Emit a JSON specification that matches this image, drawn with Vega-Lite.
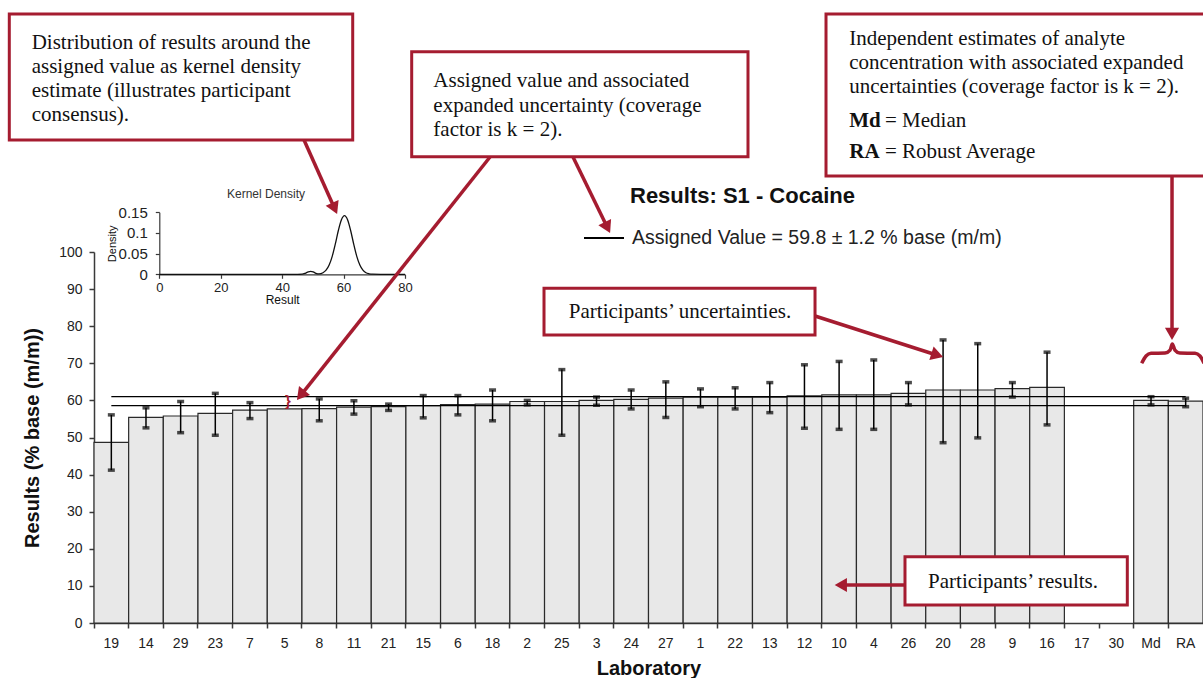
{
  "$schema": "https://vega.github.io/schema/vega-lite/v6.json",
  "width": 1109,
  "height": 371,
  "autosize": {"type": "none"},
  "padding": {"left": 94, "top": 252, "right": 0, "bottom": 55},
  "background": "white",
  "config": {
    "view": {"stroke": null},
    "font": "Liberation Sans",
    "axis": {"grid": false, "labelOverlap": false, "labelFont": "Liberation Sans", "titleFont": "Liberation Sans", "domainColor": "#3a3a3a", "tickColor": "#3a3a3a", "labelColor": "#222222", "titleColor": "#111111", "domainWidth": 1.5, "tickWidth": 1.5}
  },
  "datasets": {
    "results": [
      {"lab": "19", "result": 48.7, "lo": 41.2, "hi": 56.1},
      {"lab": "14", "result": 55.4, "lo": 52.6, "hi": 58.0},
      {"lab": "29", "result": 55.8, "lo": 51.3, "hi": 59.7},
      {"lab": "23", "result": 56.5, "lo": 50.6, "hi": 61.9},
      {"lab": "7", "result": 57.4, "lo": 55.1, "hi": 59.4},
      {"lab": "5", "result": 57.7, "lo": null, "hi": null},
      {"lab": "8", "result": 57.8, "lo": 54.5, "hi": 60.4},
      {"lab": "11", "result": 58.2, "lo": 56.3, "hi": 59.9},
      {"lab": "21", "result": 58.3, "lo": 57.3, "hi": 59.0},
      {"lab": "15", "result": 58.6, "lo": 55.3, "hi": 61.3},
      {"lab": "6", "result": 58.9, "lo": 56.1, "hi": 61.3},
      {"lab": "18", "result": 59.0, "lo": 54.5, "hi": 62.8},
      {"lab": "2", "result": 59.7, "lo": 58.8, "hi": 60.0},
      {"lab": "25", "result": 59.7, "lo": 50.6, "hi": 68.3},
      {"lab": "3", "result": 60.0, "lo": 58.7, "hi": 60.9},
      {"lab": "24", "result": 60.3, "lo": 57.7, "hi": 62.8},
      {"lab": "27", "result": 60.6, "lo": 55.4, "hi": 65.0},
      {"lab": "1", "result": 60.9, "lo": 58.3, "hi": 63.1},
      {"lab": "22", "result": 60.9, "lo": 57.7, "hi": 63.4},
      {"lab": "13", "result": 60.9, "lo": 56.7, "hi": 64.8},
      {"lab": "12", "result": 61.2, "lo": 52.5, "hi": 69.6},
      {"lab": "10", "result": 61.5, "lo": 52.2, "hi": 70.5},
      {"lab": "4", "result": 61.5, "lo": 52.2, "hi": 70.9},
      {"lab": "26", "result": 61.9, "lo": 58.8, "hi": 64.8},
      {"lab": "20", "result": 62.8, "lo": 48.6, "hi": 76.3},
      {"lab": "28", "result": 62.8, "lo": 49.9, "hi": 75.3},
      {"lab": "9", "result": 63.2, "lo": 60.9, "hi": 64.8},
      {"lab": "16", "result": 63.5, "lo": 53.4, "hi": 73.0},
      {"lab": "17", "result": null, "lo": null, "hi": null},
      {"lab": "30", "result": null, "lo": null, "hi": null},
      {"lab": "Md", "result": 60.0, "lo": 58.8, "hi": 61.0},
      {"lab": "RA", "result": 59.8, "lo": 58.3, "hi": 60.6}
    ],
    "assigned": [
      {"bound": "upper", "value": 61.0},
      {"bound": "lower", "value": 58.6}
    ],
    "kde": [
      {"result": 0, "density": 0},
      {"result": 20, "density": 0},
      {"result": 40, "density": 0},
      {"result": 45, "density": 0},
      {"result": 46.5, "density": 0.0004},
      {"result": 47.5, "density": 0.0025},
      {"result": 48.5, "density": 0.0058},
      {"result": 49.3, "density": 0.007},
      {"result": 50.1, "density": 0.0058},
      {"result": 51, "density": 0.0025},
      {"result": 52, "density": 0.0008},
      {"result": 53.3, "density": 0.0038},
      {"result": 54.3, "density": 0.0099},
      {"result": 55.3, "density": 0.0224},
      {"result": 56.3, "density": 0.0435},
      {"result": 57.3, "density": 0.073},
      {"result": 58.3, "density": 0.106},
      {"result": 59.3, "density": 0.132},
      {"result": 60.3, "density": 0.142},
      {"result": 61.3, "density": 0.132},
      {"result": 62.3, "density": 0.106},
      {"result": 63.3, "density": 0.073},
      {"result": 64.3, "density": 0.0435},
      {"result": 65.3, "density": 0.0224},
      {"result": 66.3, "density": 0.0099},
      {"result": 67.3, "density": 0.0038},
      {"result": 68.3, "density": 0.0013},
      {"result": 69.5, "density": 0.0002},
      {"result": 72, "density": 0},
      {"result": 80, "density": 0}
    ],
    "boxes": [
      {"x": -2.444, "x2": 7.465, "y": 164.15, "y2": 130.19},
      {"x": 9.167, "x2": 18.871, "y": 153.99, "y2": 125.69},
      {"x": 21.122, "x2": 33.5, "y": 164.15, "y2": 120.49},
      {"x": 12.985, "x2": 20.805, "y": 90.22, "y2": 77.63},
      {"x": 23.401, "x2": 29.816, "y": 17.87, "y2": 4.85}
    ],
    "arrows": [
      {"x": 6.06, "y": 130.19, "x2": 6.943, "y2": 111.72, "angle": 156},
      {"x": 11.427, "y": 125.61, "x2": 5.965, "y2": 61.37, "angle": 218.5},
      {"x": 13.822, "y": 125.61, "x2": 14.814, "y2": 106.58, "angle": 154},
      {"x": 31.106, "y": 120.49, "x2": 31.106, "y2": 77.9, "angle": 180},
      {"x": 20.805, "y": 82.75, "x2": 24.333, "y2": 72.18, "angle": 107.8},
      {"x": 23.401, "y": 10.24, "x2": 21.55, "y2": 10.24, "angle": 270}
    ],
    "brace": [
      {"x": 30.23, "y": 70.0},
      {"x": 30.356, "y": 71.97},
      {"x": 30.5, "y": 72.7},
      {"x": 30.905, "y": 72.78},
      {"x": 31.05, "y": 73.58},
      {"x": 31.114, "y": 75.2},
      {"x": 31.19, "y": 73.58},
      {"x": 31.33, "y": 72.78},
      {"x": 31.77, "y": 72.7},
      {"x": 31.913, "y": 71.97},
      {"x": 32.03, "y": 70.0}
    ],
    "notes": [
      {"kind": "left", "x": -1.798, "y": 154.72, "text": "Distribution of results around the"},
      {"kind": "left", "x": -1.798, "y": 148.33, "text": "assigned value as kernel density"},
      {"kind": "left", "x": -1.798, "y": 141.86, "text": "estimate (illustrates participant"},
      {"kind": "left", "x": -1.798, "y": 135.39, "text": "consensus)."},
      {"kind": "left", "x": 9.791, "y": 144.56, "text": "Assigned value and associated"},
      {"kind": "left", "x": 9.791, "y": 137.82, "text": "expanded uncertainty (coverage"},
      {"kind": "left", "x": 9.791, "y": 131.35, "text": "factor is k = 2)."},
      {"kind": "left", "x": 21.794, "y": 155.8, "text": "Independent estimates of analyte"},
      {"kind": "left", "x": 21.794, "y": 149.25, "text": "concentration with associated expanded"},
      {"kind": "left", "x": 21.794, "y": 142.78, "text": "uncertainties (coverage factor is k = 2)."},
      {"kind": "left", "x": 22.824, "y": 133.61, "text": "= Median"},
      {"kind": "left", "x": 22.824, "y": 125.26, "text": "= Robust Average"},
      {"kind": "bold", "x": 21.794, "y": 133.61, "text": "Md"},
      {"kind": "bold", "x": 21.794, "y": 125.26, "text": "RA"},
      {"kind": "center", "x": 16.909, "y": 82.13, "text": "Participants’ uncertainties."},
      {"kind": "center", "x": 26.518, "y": 9.35, "text": "Participants’ results."},
      {"kind": "title", "x": 15.466, "y": 113.29, "text": "Results: S1 - Cocaine"},
      {"kind": "inset", "x": 4.963, "y": 115.5, "text": "Kernel Density"},
      {"kind": "bracket", "x": 5.598, "y": 59.84, "text": "}"}
    ]
  },
  "layer": [
    {
      "layer": [
        {
          "data": {"name": "results"},
          "mark": {"type": "bar", "fill": "#e8e8e8", "stroke": "#2a2a2a", "strokeWidth": 1.2},
          "encoding": {
            "x": {
              "field": "lab", "type": "nominal",
              "scale": {"domain": ["19","14","29","23","7","5","8","11","21","15","6","18","2","25","3","24","27","1","22","13","12","10","4","26","20","28","9","16","17","30","Md","RA"], "paddingInner": 0, "paddingOuter": 0},
              "axis": {"title": "Laboratory", "titleFontSize": 20, "titleFontWeight": "bold", "labelFontSize": 14, "labelAngle": 0, "bandPosition": 0, "tickSize": 5, "labelPadding": 8, "titlePadding": 8}
            },
            "y": {
              "field": "result", "type": "quantitative",
              "scale": {"domain": [0, 100], "nice": false},
              "axis": {"title": "Results (% base (m/m))", "titleFontSize": 20, "titleFontWeight": "bold", "labelFontSize": 14, "values": [0,10,20,30,40,50,60,70,80,90,100], "tickCount": 11, "format": "d", "tickSize": 5, "labelPadding": 7, "titlePadding": 16}
            }
          }
        },
        {
          "data": {"name": "results"},
          "mark": {"type": "rule", "color": "#000000", "strokeWidth": 1.5},
          "encoding": {
            "x": {"field": "lab", "type": "nominal", "axis": {"title": "Laboratory", "titleFontSize": 20, "titleFontWeight": "bold", "labelFontSize": 14, "labelAngle": 0, "bandPosition": 0, "tickSize": 5, "labelPadding": 8, "titlePadding": 8}},
            "y": {"field": "lo", "type": "quantitative", "axis": {"title": "Results (% base (m/m))", "titleFontSize": 20, "titleFontWeight": "bold", "labelFontSize": 14, "values": [0,10,20,30,40,50,60,70,80,90,100], "tickCount": 11, "format": "d", "tickSize": 5, "labelPadding": 7, "titlePadding": 16}},
            "y2": {"field": "hi"}
          }
        },
        {
          "data": {"name": "results"},
          "mark": {"type": "tick", "color": "#000000", "size": 7, "thickness": 3.5},
          "encoding": {
            "x": {"field": "lab", "type": "nominal", "axis": {"title": "Laboratory", "titleFontSize": 20, "titleFontWeight": "bold", "labelFontSize": 14, "labelAngle": 0, "bandPosition": 0, "tickSize": 5, "labelPadding": 8, "titlePadding": 8}},
            "y": {"field": "lo", "type": "quantitative", "axis": {"title": "Results (% base (m/m))", "titleFontSize": 20, "titleFontWeight": "bold", "labelFontSize": 14, "values": [0,10,20,30,40,50,60,70,80,90,100], "tickCount": 11, "format": "d", "tickSize": 5, "labelPadding": 7, "titlePadding": 16}}
          }
        },
        {
          "data": {"name": "results"},
          "mark": {"type": "tick", "color": "#000000", "size": 7, "thickness": 3.5},
          "encoding": {
            "x": {"field": "lab", "type": "nominal", "axis": {"title": "Laboratory", "titleFontSize": 20, "titleFontWeight": "bold", "labelFontSize": 14, "labelAngle": 0, "bandPosition": 0, "tickSize": 5, "labelPadding": 8, "titlePadding": 8}},
            "y": {"field": "hi", "type": "quantitative", "axis": {"title": "Results (% base (m/m))", "titleFontSize": 20, "titleFontWeight": "bold", "labelFontSize": 14, "values": [0,10,20,30,40,50,60,70,80,90,100], "tickCount": 11, "format": "d", "tickSize": 5, "labelPadding": 7, "titlePadding": 16}}
          }
        },
        {
          "data": {"name": "assigned"},
          "mark": {"type": "rule", "strokeWidth": 1.3},
          "encoding": {
            "x": {"datum": "19", "type": "nominal", "axis": {"title": "Laboratory", "titleFontSize": 20, "titleFontWeight": "bold", "labelFontSize": 14, "labelAngle": 0, "bandPosition": 0, "tickSize": 5, "labelPadding": 8, "titlePadding": 8}},
            "x2": {"datum": "RA"},
            "y": {"field": "value", "type": "quantitative", "axis": {"title": "Results (% base (m/m))", "titleFontSize": 20, "titleFontWeight": "bold", "labelFontSize": 14, "values": [0,10,20,30,40,50,60,70,80,90,100], "tickCount": 11, "format": "d", "tickSize": 5, "labelPadding": 7, "titlePadding": 16}},
            "color": {
              "datum": "Assigned Value = 59.8 ± 1.2 % base (m/m)", "type": "nominal",
              "scale": {"range": ["#000000"]},
              "legend": {"orient": "none", "legendX": 489, "legendY": -35, "title": null, "symbolType": "stroke", "symbolSize": 1600, "symbolStrokeWidth": 2, "labelFontSize": 19.5, "labelFont": "Liberation Sans", "labelColor": "#222222", "labelOffset": 7, "labelLimit": 0, "padding": 0}
            }
          }
        }
      ]
    },
    {
      "data": {"name": "kde"},
      "mark": {"type": "line", "color": "#111111", "strokeWidth": 1.3, "interpolate": "monotone"},
      "encoding": {
        "x": {
          "field": "result", "type": "quantitative",
          "scale": {"domain": [0, 80], "range": [65.3, 311], "nice": false, "zero": false},
          "axis": {"orient": "bottom", "offset": -348.7, "values": [0,20,40,60,80], "title": "Result", "titleFontSize": 12, "titleFontWeight": "normal", "labelFontSize": 13, "tickSize": 4, "labelPadding": 3, "titlePadding": 0, "labelFlush": false, "domainWidth": 1.2, "tickWidth": 1.2}
        },
        "y": {
          "field": "density", "type": "quantitative",
          "scale": {"domain": [0, 0.15], "range": [22.3, -39.7], "nice": false},
          "axis": {"orient": "left", "offset": -65.3, "values": [0, 0.05, 0.1, 0.15], "format": ".2~f", "title": "Density", "titleFontSize": 11, "titleFontWeight": "normal", "labelFontSize": 15, "tickSize": 4, "labelPadding": 8, "titlePadding": 1, "domainWidth": 1.2, "tickWidth": 1.2}
        }
      }
    },
    {
      "layer": [
        {
          "data": {"name": "boxes"},
          "mark": {"type": "rect", "fill": "white", "stroke": "#a51c30", "strokeWidth": 3},
          "encoding": {
            "x": {"field": "x", "type": "quantitative", "scale": {"domain": [0, 32], "nice": false, "zero": false}, "axis": null},
            "x2": {"field": "x2"},
            "y": {"field": "y", "type": "quantitative", "scale": {"domain": [0, 100], "nice": false, "zero": false}, "axis": null},
            "y2": {"field": "y2"}
          }
        },
        {
          "data": {"name": "arrows"},
          "mark": {"type": "rule", "color": "#a51c30", "strokeWidth": 3.5},
          "encoding": {
            "x": {"field": "x", "type": "quantitative", "axis": null},
            "x2": {"field": "x2"},
            "y": {"field": "y", "type": "quantitative", "axis": null},
            "y2": {"field": "y2"}
          }
        },
        {
          "data": {"name": "arrows"},
          "mark": {"type": "point", "shape": "triangle-up", "filled": true, "color": "#a51c30", "size": 200, "opacity": 1},
          "encoding": {
            "x": {"field": "x2", "type": "quantitative", "axis": null},
            "y": {"field": "y2", "type": "quantitative", "axis": null},
            "angle": {"field": "angle", "type": "quantitative", "scale": null}
          }
        },
        {
          "data": {"name": "brace"},
          "mark": {"type": "line", "color": "#a51c30", "strokeWidth": 3.5, "interpolate": "monotone"},
          "encoding": {
            "x": {"field": "x", "type": "quantitative", "axis": null},
            "y": {"field": "y", "type": "quantitative", "axis": null}
          }
        },
        {
          "data": {"name": "notes"},
          "transform": [{"filter": "datum.kind === 'left'"}],
          "mark": {"type": "text", "align": "left", "baseline": "alphabetic", "font": "Liberation Serif", "fontSize": 21, "color": "#111111"},
          "encoding": {
            "x": {"field": "x", "type": "quantitative", "axis": null},
            "y": {"field": "y", "type": "quantitative", "axis": null},
            "text": {"field": "text"}
          }
        },
        {
          "data": {"name": "notes"},
          "transform": [{"filter": "datum.kind === 'bold'"}],
          "mark": {"type": "text", "align": "left", "baseline": "alphabetic", "font": "Liberation Serif", "fontSize": 21, "fontWeight": "bold", "color": "#111111"},
          "encoding": {
            "x": {"field": "x", "type": "quantitative", "axis": null},
            "y": {"field": "y", "type": "quantitative", "axis": null},
            "text": {"field": "text"}
          }
        },
        {
          "data": {"name": "notes"},
          "transform": [{"filter": "datum.kind === 'center'"}],
          "mark": {"type": "text", "align": "center", "baseline": "alphabetic", "font": "Liberation Serif", "fontSize": 21, "color": "#111111"},
          "encoding": {
            "x": {"field": "x", "type": "quantitative", "axis": null},
            "y": {"field": "y", "type": "quantitative", "axis": null},
            "text": {"field": "text"}
          }
        },
        {
          "data": {"name": "notes"},
          "transform": [{"filter": "datum.kind === 'title'"}],
          "mark": {"type": "text", "align": "left", "baseline": "alphabetic", "font": "Liberation Sans", "fontSize": 22, "fontWeight": "bold", "color": "#111111"},
          "encoding": {
            "x": {"field": "x", "type": "quantitative", "axis": null},
            "y": {"field": "y", "type": "quantitative", "axis": null},
            "text": {"field": "text"}
          }
        },
        {
          "data": {"name": "notes"},
          "transform": [{"filter": "datum.kind === 'inset'"}],
          "mark": {"type": "text", "align": "center", "baseline": "middle", "font": "Liberation Sans", "fontSize": 12, "color": "#333333"},
          "encoding": {
            "x": {"field": "x", "type": "quantitative", "axis": null},
            "y": {"field": "y", "type": "quantitative", "axis": null},
            "text": {"field": "text"}
          }
        },
        {
          "data": {"name": "notes"},
          "transform": [{"filter": "datum.kind === 'bracket'"}],
          "mark": {"type": "text", "align": "center", "baseline": "middle", "font": "Liberation Sans", "fontSize": 15, "fontWeight": "bold", "color": "#a51c30"},
          "encoding": {
            "x": {"field": "x", "type": "quantitative", "axis": null},
            "y": {"field": "y", "type": "quantitative", "axis": null},
            "text": {"field": "text"}
          }
        }
      ]
    }
  ],
  "resolve": {"scale": {"x": "independent", "y": "independent"}}
}
